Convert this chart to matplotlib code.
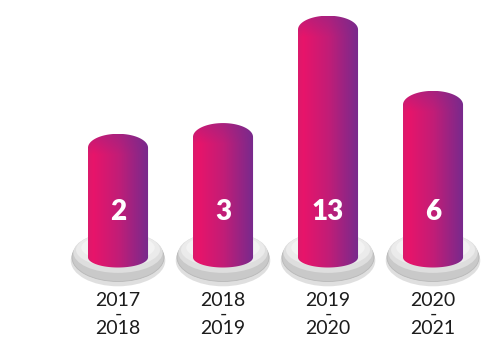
import numpy as np
import matplotlib
matplotlib.use("Agg")
import matplotlib.pyplot as plt
import matplotlib.transforms as mtransforms
from matplotlib.patches import Ellipse, PathPatch
from matplotlib.path import Path
from matplotlib.colors import LinearSegmentedColormap, to_rgb

seasons = ["2017\n-\n2018", "2018\n-\n2019", "2019\n-\n2020", "2020\n-\n2021"]
counts = [2, 3, 13, 6]

# horizontal pink -> purple gradient of the cylinders
body_cmap = LinearSegmentedColormap.from_list(
    "body", [(0.0, "#dc1a6c"), (0.08, "#e8146a"), (0.5, "#c21d77"), (1.0, "#772a8d")])
purple = np.array(to_rgb("#7a2a8c"))

fig = plt.figure(figsize=(5, 3.43), dpi=100)
ax = fig.add_axes([0, 0, 1, 1])
ax.axis("off")
xlim = (-1.124, 3.638)
ylim = (-16.18, 15.76)

base = -8.2       # bottom of the cylinders, in value units
half_w = 0.286    # half width of a cylinder
cap_top = 1.3     # height of the rounded top
cap_bot = 0.95    # height of the bottom curve


def cylinder_path(xc, top):
    t = np.linspace(np.pi, 2 * np.pi, 50)
    bottom = np.column_stack([xc + half_w * np.cos(t), base + cap_bot * np.sin(t)])
    t2 = np.linspace(0, np.pi, 50)
    dome = np.column_stack([xc + half_w * np.cos(t2), top + cap_top * np.sin(t2)])
    verts = np.vstack([bottom, dome, bottom[:1]])
    codes = [Path.MOVETO] + [Path.LINETO] * (len(verts) - 2) + [Path.CLOSEPOLY]
    return Path(verts, codes)


for i, v in enumerate(counts):
    # grey plate under each cylinder
    ax.add_patch(Ellipse((i, -8.5), 0.90, 4.8, color="#b0b0b0", alpha=0.4, lw=0))
    ax.add_patch(Ellipse((i, -8.2), 0.876, 4.5, facecolor="#c9c9c9",
                         edgecolor="#b8b8b8", lw=0.6))
    ax.add_patch(Ellipse((i, -7.75), 0.85, 3.8, color="#dedede", lw=0))
    ax.add_patch(Ellipse((i, -7.5), 0.80, 3.2, color="#ebebeb", lw=0))
    ax.add_patch(Ellipse((i, -7.3), 0.70, 2.5, color="#f3f3f3", lw=0))

    # cylinder body with gradient, a bit more purple on the dome
    y0, y1 = base - cap_bot, v + cap_top
    ny, nx = 200, 60
    cols = body_cmap(np.linspace(0, 1, nx))[:, :3]
    ys = np.linspace(y1, y0, ny)
    blend = np.clip((ys - (v - 0.6)) / (cap_top + 0.6), 0, 1) * 0.35
    img = cols[None, :, :] * (1 - blend[:, None, None]) + purple[None, None, :] * blend[:, None, None]
    patch = PathPatch(cylinder_path(i, v), facecolor="none", edgecolor="none")
    ax.add_patch(patch)
    im = ax.imshow(img, extent=[i - half_w, i + half_w, y0, y1], aspect="auto",
                   interpolation="bilinear", zorder=2)
    im.set_clip_path(patch)

blend_tr = mtransforms.blended_transform_factory(ax.transData, ax.transAxes)
for i, v in enumerate(counts):
    ax.text(i, 0.382, str(v), transform=blend_tr, ha="center", va="center",
            color="white", fontsize=20, fontweight="heavy", family="Lato", zorder=3)
    ax.text(i, 0.083, seasons[i], transform=blend_tr, ha="center", va="center",
            color="#1c1c1c", fontsize=14, family="Lato", linespacing=0.8)

ax.set_xlim(*xlim)
ax.set_ylim(*ylim)
fig.savefig("out.png", dpi=100, facecolor="white")
